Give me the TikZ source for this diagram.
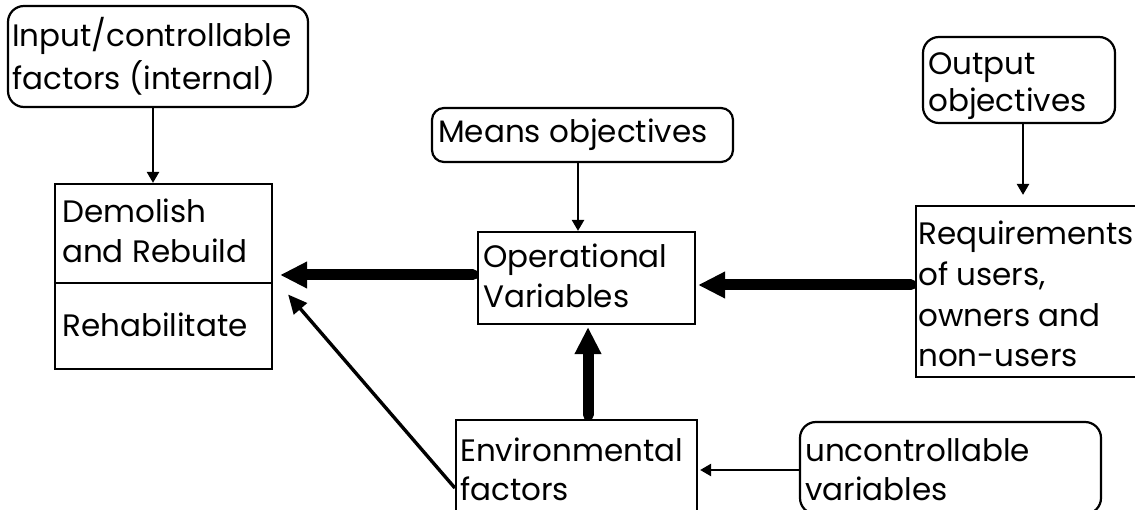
\documentclass[tikz,border=0pt]{standalone}
\usepackage{fontspec}
\setmainfont{Poppins}
\usetikzlibrary{arrows.meta}
\begin{document}
\begin{tikzpicture}[x=1pt,y=-1pt,
  box/.style={draw, line width=2.2pt, inner sep=0pt, rectangle},
  roundbox/.style={box, rounded corners=16pt},
  % multi-line labels are placed by the baseline of their last line
  txt/.style={inner sep=0pt, anchor=base west, align=left,
    font=\fontsize{31}{#1}\selectfont},
  txt/.default=40,
  thinarr/.style={line width=2.4pt, -{Triangle[length=11pt,width=12pt]}},
  diagarr/.style={line width=3.4pt, -{Triangle[length=19pt,width=17pt]}},
  thickarr/.style={line width=11pt, line cap=round,
    -{Triangle[length=27pt,width=25pt]}}]
\clip (0,0) rectangle (1135,510);
\fill[white] (0,0) rectangle (1135,510);

% boxes
\node[roundbox, minimum width=300pt, minimum height=101pt] (inp) at (158,56.5) {};
\node[box, minimum width=217pt, minimum height=185pt] (dem) at (163.5,276.5) {};
\draw[line width=2.2pt] (dem.west |- 0,283) -- (dem.east |- 0,283);
\node[roundbox, rounded corners=12pt, minimum width=301pt, minimum height=54pt] (means) at (582.5,135) {};
\node[box, minimum width=217pt, minimum height=92pt] (op) at (586.5,278) {};
\node[roundbox, minimum width=192pt, minimum height=86pt] (out) at (1019,80) {};
\node[box, minimum width=229pt, minimum height=171pt] (req) at (1030.5,291.5) {};
\node[box, minimum width=241pt, minimum height=94pt] (env) at (576.5,467) {};
\node[roundbox, minimum width=301pt, minimum height=92pt] (unc) at (950.5,468) {};

% texts
\node[txt=43] (t-inp) at (12,90) {Input/controllable\\factors (internal)};
\node[txt] (t-dem) at (62,263) {Demolish\\and Rebuild};
\node[txt] (t-reh) at (62,337) {Rehabilitate};
\node[txt] (t-means) at (438,143) {Means objectives};
\node[txt] (t-op) at (483,308) {Operational\\Variables};
\node[txt=37] (t-out) at (928,112) {Output\\objectives};
\node[txt=40.7] (t-req) at (918,367) {Requirements\\of users,\\owners and\\non-users};
\node[txt=39] (t-env) at (460,500) {Environmental\\factors};
\node[txt=39] (t-unc) at (805,500) {uncontrollable\\variables};

% connectors
\draw[thinarr] (inp.south -| 153,0) -- (dem.north -| 153,0);
\draw[thinarr] (means.south -| 578,0) -- (op.north -| 578,0);
\draw[thinarr, shorten >=10pt] (out.south -| 1023,0) -- (req.north -| 1023,0);
\draw[thinarr, shorten >=2pt] (unc.west |- 0,470) -- (env.east |- 0,470);
\draw[thickarr, shorten <=4pt, shorten >=7pt] (op.west |- 0,275) -- (dem.east |- 0,275);
\draw[thickarr, shorten <=4pt, shorten >=2pt] (req.west |- 0,285) -- (op.east |- 0,285);
\draw[thickarr, shorten <=4pt, shorten >=2pt] (env.north -| 588,0) -- (op.south -| 588,0);
\coordinate (diagend) at ([xshift=15pt,yshift=-18pt]dem.east);
\draw[diagarr] (env.west |- 0,488) -- (diagend);
\end{tikzpicture}
\end{document}
